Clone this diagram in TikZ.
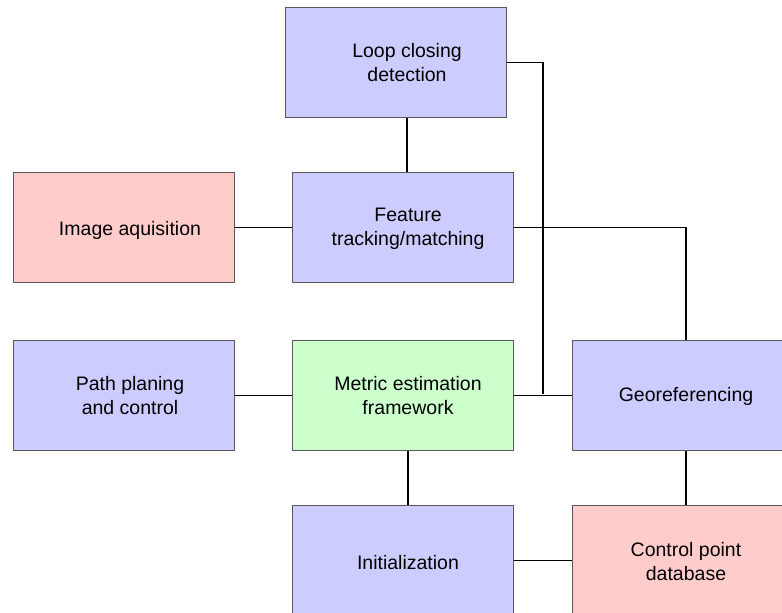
\documentclass[tikz,border=0pt]{standalone}
\usepackage{fontspec}
\setmainfont{Liberation Sans}
\begin{document}
\begin{tikzpicture}[x=1pt,y=-1pt,
  box/.style={draw=black!65, line width=1.2pt, minimum width=221pt, minimum height=110pt, inner sep=0pt, anchor=north west},
  bluebox/.style={box, fill={rgb,255:red,204;green,204;blue,255}},
  redbox/.style={box, fill={rgb,255:red,255;green,204;blue,204}},
  greenbox/.style={box, fill={rgb,255:red,204;green,255;blue,204}},
  lbl/.style={font=\fontsize{19.5}{24}\selectfont, align=center, inner sep=0pt},
  conn/.style={draw=black, line width=1.3pt}]
\useasboundingbox (0,0) rectangle (782,613);
\node[bluebox] (loop) at (285,7) {};
\node[lbl] (loopT) at (407,63) {Loop closing\\detection};
\node[redbox] (img) at (13,172) {};
\node[lbl] (imgT) at (130,230) {Image aquisition};
\node[bluebox] (feat) at (292,172) {};
\node[lbl] (featT) at (408,229) {Feature\\tracking/matching};
\node[bluebox] (path) at (13,340) {};
\node[lbl] (pathT) at (130,396) {Path planing\\and control};
\node[greenbox] (met) at (292,340) {};
\node[lbl] (metT) at (408,396) {Metric estimation\\framework};
\node[bluebox] (geo) at (572,340) {};
\node[lbl] (geoT) at (686,396) {Georeferencing};
\node[bluebox] (init) at (292,505) {};
\node[lbl] (initT) at (408,563) {Initialization};
\node[redbox] (cp) at (572,505) {};
\node[lbl] (cpT) at (686,562) {Control point\\database};
\coordinate (jn) at (543,394);
\draw[conn] (loopT |- loop.south) -- (loopT |- feat.north);
\draw[conn] (loop.east) -| (jn);
\draw[conn] (feat.east) -| (geoT |- geo.north);
\draw[conn] (img.east) -- (feat.west);
\draw[conn] (path.east) -- (met.west);
\draw[conn] (met.east) -- (geo.west);
\draw[conn] (metT |- met.south) -- (metT |- init.north);
\draw[conn] (geoT |- geo.south) -- (geoT |- cp.north);
\draw[conn] (init.east) -- (cp.west);
\end{tikzpicture}
\end{document}
